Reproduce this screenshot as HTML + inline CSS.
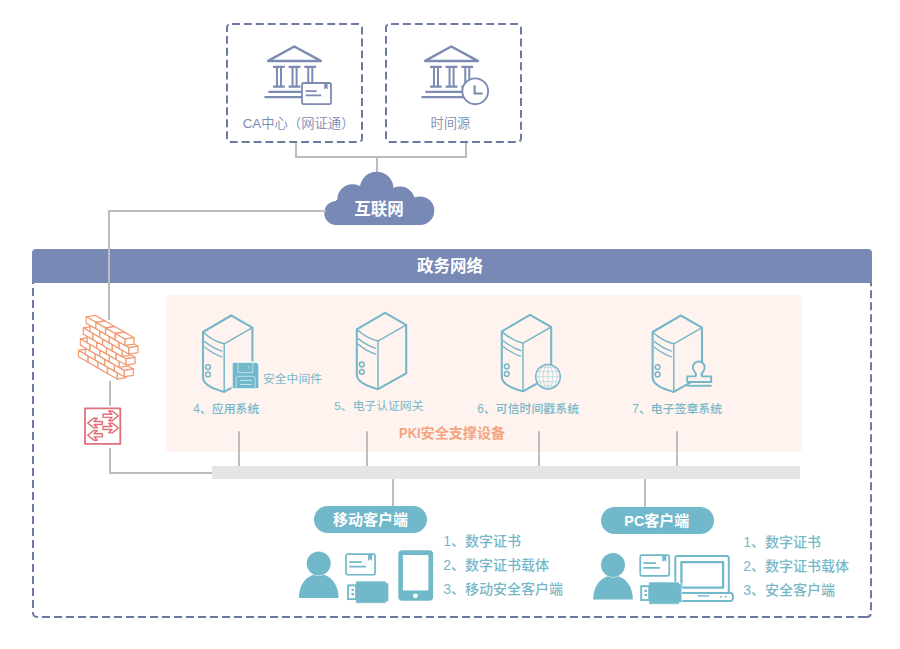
<!DOCTYPE html>
<html lang="zh-CN">
<head>
<meta charset="utf-8">
<title>政务网络 PKI安全支撑</title>
<style>
html,body{margin:0;padding:0;background:#fff;}
body{width:900px;height:649px;overflow:hidden;position:relative;font-family:"Liberation Sans", "Noto Sans CJK SC", sans-serif;}
svg{position:absolute;left:0;top:0;display:block;}
text{font-family:"Liberation Sans", "Noto Sans CJK SC", sans-serif;}
.lbl{font-size:11.8px;fill:#78b7c8;font-weight:400;}
.lb5{font-size:11.9px;font-weight:500;}
.lst{font-size:14px;fill:#78b7c8;font-weight:500;}
.box{font-size:13.33px;fill:#7d8bb3;font-weight:350;}
.wb{fill:#fff;font-weight:700;}
</style>
</head>
<body>
<svg width="900" height="649" viewBox="0 0 900 649">
<defs><clipPath id="below"><rect x="0" y="282" width="900" height="367"/></clipPath></defs>
<rect width="900" height="649" fill="#fff"/>

<g fill="none" stroke="#6c7aa2" stroke-width="2" stroke-dasharray="7.94 3.965" stroke-dashoffset="-1.5">
<rect x="227" y="24" width="135" height="118" rx="3.5"/>
<rect x="386" y="24" width="135" height="118" rx="3.5"/>
</g>
<g fill="none" stroke="#bdbdbd" stroke-width="2">
<path d="M296,143 V157 H466 V143 M377,157 V173"/>
<path d="M393,479 V507 M645,479 V508"/>
</g>
<g transform="translate(0,0)" fill="none" stroke="#7d8bb3" stroke-linejoin="round" stroke-linecap="butt">
<path d="M294.3,46.5 L268.1,60.9 L320.8,60.9 Z" stroke-width="2.5"/>
<path d="M273.0,66.9 h11.8 M273.0,86.6 h11.8" stroke-width="2.1"/>
<path d="M276.95,67 v19.4 M281.00,67 v19.4" stroke-width="2"/>
<path d="M288.6,66.9 h11.8 M288.6,86.6 h11.8" stroke-width="2.1"/>
<path d="M292.55,67 v19.4 M296.60,67 v19.4" stroke-width="2"/>
<path d="M304.3,66.9 h11.8 M304.3,86.6 h11.8" stroke-width="2.1"/>
<path d="M308.25,67 v19.4 M312.30,67 v19.4" stroke-width="2"/>
<path d="M268.4,91.8 H318 M264.4,97.1 H318" stroke-width="2.2"/>
</g>
<g transform="translate(157,0)" fill="none" stroke="#7d8bb3" stroke-linejoin="round" stroke-linecap="butt">
<path d="M294.3,46.5 L268.1,60.9 L320.8,60.9 Z" stroke-width="2.5"/>
<path d="M273.0,66.9 h11.8 M273.0,86.6 h11.8" stroke-width="2.1"/>
<path d="M276.95,67 v19.4 M281.00,67 v19.4" stroke-width="2"/>
<path d="M288.6,66.9 h11.8 M288.6,86.6 h11.8" stroke-width="2.1"/>
<path d="M292.55,67 v19.4 M296.60,67 v19.4" stroke-width="2"/>
<path d="M304.3,66.9 h11.8 M304.3,86.6 h11.8" stroke-width="2.1"/>
<path d="M308.25,67 v19.4 M312.30,67 v19.4" stroke-width="2"/>
<path d="M268.4,91.8 H318 M264.4,97.1 H318" stroke-width="2.2"/>
</g>
<g><rect x="302" y="83" width="29" height="21.2" rx="1.6" fill="#fff" stroke="#7d8bb3" stroke-width="1.8"/><path d="M305.6,91.2 H316.6 M305.6,95.4 H321.2" stroke="#7d8bb3" stroke-width="1.8" fill="none"/><path d="M324.2,83 V89.6 L325.9,88 L327.6,89.6 V83 Z" fill="#7d8bb3"/></g>
<g><circle cx="475.2" cy="91.3" r="12.9" fill="#fff" stroke="#7d8bb3" stroke-width="1.9"/><path d="M474.6,85.2 V93.5 H482.8" fill="none" stroke="#7d8bb3" stroke-width="2.1"/></g>
<text class="box" x="298.6" y="127.8" text-anchor="middle">CA中心（网证通）</text>
<text class="box" x="450.4" y="127.9" text-anchor="middle">时间源</text>
<g fill="#7789b4"><circle cx="336.2" cy="213" r="12"/><circle cx="352.5" cy="199.5" r="15.2"/><circle cx="376.7" cy="188.6" r="16.9"/><circle cx="400" cy="201.5" r="15"/><circle cx="420" cy="210.7" r="14.3"/><rect x="336" y="200" width="84" height="25"/></g>
<text class="wb" x="379" y="215.2" font-size="16.5" text-anchor="middle">互联网</text>
<path d="M866,617 H37 A4,4 0 0 1 33,613 V252.27 A4,4 0 0 1 37,248.27 H867 A4,4 0 0 1 871,252.27 V613 A4,4 0 0 1 867,617 H866" fill="none" stroke="#6c7aa2" stroke-width="2" stroke-dasharray="8 4" clip-path="url(#below)"/>
<path d="M32,283 V253 A4,4 0 0 1 36,249 H868 A4,4 0 0 1 872,253 V283 Z" fill="#7789b4"/>
<text class="wb" x="450" y="271.8" font-size="16.5" text-anchor="middle">政务网络</text>
<path d="M326,211 H109 V320 M110,381 V405.8 M110,448 V474 M109,473 H213" stroke="#bdbdbd" stroke-width="2" fill="none"/>
<rect x="166" y="295" width="636" height="157" rx="4.5" fill="#fef3ef"/>
<path d="M239,431.3 V466 M367,431.3 V466 M539,431.3 V466 M677,431.3 V466" stroke="#bdbdbd" stroke-width="2" fill="none"/>
<rect x="212" y="466" width="588" height="13" fill="#e5e5e5"/>
<g fill="#fff" stroke="#f29c74" stroke-width="1.25" stroke-linejoin="round">
<path d="M78.46,350.39 L87.66,348.99 L97.33,354.57 L88.13,355.97 Z"/>
<path d="M88.13,355.97 L97.33,354.57 L97.33,360.92 L88.13,362.32 Z"/>
<path d="M78.46,350.39 L88.13,355.97 L88.13,362.32 L78.46,356.74 Z"/>
<path d="M88.13,355.97 L97.33,354.57 L107.00,360.15 L97.80,361.55 Z"/>
<path d="M97.80,361.55 L107.00,360.15 L107.00,366.50 L97.80,367.90 Z"/>
<path d="M88.13,355.97 L97.80,361.55 L97.80,367.90 L88.13,362.32 Z"/>
<path d="M97.80,361.55 L107.00,360.15 L116.67,365.73 L107.47,367.13 Z"/>
<path d="M107.47,367.13 L116.67,365.73 L116.67,372.08 L107.47,373.48 Z"/>
<path d="M97.80,361.55 L107.47,367.13 L107.47,373.48 L97.80,367.90 Z"/>
<path d="M107.47,367.13 L116.67,365.73 L126.34,371.31 L117.14,372.71 Z"/>
<path d="M117.14,372.71 L126.34,371.31 L126.34,377.66 L117.14,379.06 Z"/>
<path d="M107.47,367.13 L117.14,372.71 L117.14,379.06 L107.47,373.48 Z"/>
<path d="M85.43,348.05 L94.63,346.65 L104.30,352.23 L95.10,353.63 Z"/>
<path d="M95.10,353.63 L104.30,352.23 L104.30,358.58 L95.10,359.98 Z"/>
<path d="M85.43,348.05 L95.10,353.63 L95.10,359.98 L85.43,354.40 Z"/>
<path d="M95.10,353.63 L104.30,352.23 L113.97,357.81 L104.77,359.21 Z"/>
<path d="M104.77,359.21 L113.97,357.81 L113.97,364.16 L104.77,365.56 Z"/>
<path d="M95.10,353.63 L104.77,359.21 L104.77,365.56 L95.10,359.98 Z"/>
<path d="M104.77,359.21 L113.97,357.81 L123.64,363.39 L114.44,364.79 Z"/>
<path d="M114.44,364.79 L123.64,363.39 L123.64,369.74 L114.44,371.14 Z"/>
<path d="M104.77,359.21 L114.44,364.79 L114.44,371.14 L104.77,365.56 Z"/>
<path d="M114.44,364.79 L123.64,363.39 L133.31,368.97 L124.11,370.37 Z"/>
<path d="M124.11,370.37 L133.31,368.97 L133.31,375.32 L124.11,376.72 Z"/>
<path d="M114.44,364.79 L124.11,370.37 L124.11,376.72 L114.44,371.14 Z"/>
<path d="M80.40,338.80 L89.60,337.40 L99.27,342.98 L90.07,344.38 Z"/>
<path d="M90.07,344.38 L99.27,342.98 L99.27,349.33 L90.07,350.73 Z"/>
<path d="M80.40,338.80 L90.07,344.38 L90.07,350.73 L80.40,345.15 Z"/>
<path d="M90.07,344.38 L99.27,342.98 L108.94,348.56 L99.74,349.96 Z"/>
<path d="M99.74,349.96 L108.94,348.56 L108.94,354.91 L99.74,356.31 Z"/>
<path d="M90.07,344.38 L99.74,349.96 L99.74,356.31 L90.07,350.73 Z"/>
<path d="M99.74,349.96 L108.94,348.56 L118.61,354.14 L109.41,355.54 Z"/>
<path d="M109.41,355.54 L118.61,354.14 L118.61,360.49 L109.41,361.89 Z"/>
<path d="M99.74,349.96 L109.41,355.54 L109.41,361.89 L99.74,356.31 Z"/>
<path d="M109.41,355.54 L118.61,354.14 L128.28,359.72 L119.08,361.12 Z"/>
<path d="M119.08,361.12 L128.28,359.72 L128.28,366.07 L119.08,367.47 Z"/>
<path d="M109.41,355.54 L119.08,361.12 L119.08,367.47 L109.41,361.89 Z"/>
<path d="M87.17,336.36 L96.37,334.96 L106.04,340.54 L96.84,341.94 Z"/>
<path d="M96.84,341.94 L106.04,340.54 L106.04,346.89 L96.84,348.29 Z"/>
<path d="M87.17,336.36 L96.84,341.94 L96.84,348.29 L87.17,342.71 Z"/>
<path d="M96.84,341.94 L106.04,340.54 L115.71,346.12 L106.51,347.52 Z"/>
<path d="M106.51,347.52 L115.71,346.12 L115.71,352.47 L106.51,353.87 Z"/>
<path d="M96.84,341.94 L106.51,347.52 L106.51,353.87 L96.84,348.29 Z"/>
<path d="M106.51,347.52 L115.71,346.12 L125.38,351.70 L116.18,353.10 Z"/>
<path d="M116.18,353.10 L125.38,351.70 L125.38,358.05 L116.18,359.45 Z"/>
<path d="M106.51,347.52 L116.18,353.10 L116.18,359.45 L106.51,353.87 Z"/>
<path d="M116.18,353.10 L125.38,351.70 L135.05,357.28 L125.85,358.68 Z"/>
<path d="M125.85,358.68 L135.05,357.28 L135.05,363.63 L125.85,365.03 Z"/>
<path d="M116.18,353.10 L125.85,358.68 L125.85,365.03 L116.18,359.45 Z"/>
<path d="M83.30,327.78 L92.50,326.38 L102.17,331.96 L92.97,333.36 Z"/>
<path d="M92.97,333.36 L102.17,331.96 L102.17,338.31 L92.97,339.71 Z"/>
<path d="M83.30,327.78 L92.97,333.36 L92.97,339.71 L83.30,334.13 Z"/>
<path d="M92.97,333.36 L102.17,331.96 L111.84,337.54 L102.64,338.94 Z"/>
<path d="M102.64,338.94 L111.84,337.54 L111.84,343.89 L102.64,345.29 Z"/>
<path d="M92.97,333.36 L102.64,338.94 L102.64,345.29 L92.97,339.71 Z"/>
<path d="M102.64,338.94 L111.84,337.54 L121.51,343.12 L112.31,344.52 Z"/>
<path d="M112.31,344.52 L121.51,343.12 L121.51,349.47 L112.31,350.87 Z"/>
<path d="M102.64,338.94 L112.31,344.52 L112.31,350.87 L102.64,345.29 Z"/>
<path d="M112.31,344.52 L121.51,343.12 L131.18,348.70 L121.98,350.10 Z"/>
<path d="M121.98,350.10 L131.18,348.70 L131.18,355.05 L121.98,356.45 Z"/>
<path d="M112.31,344.52 L121.98,350.10 L121.98,356.45 L112.31,350.87 Z"/>
<path d="M90.07,325.33 L99.27,323.93 L108.94,329.51 L99.74,330.91 Z"/>
<path d="M99.74,330.91 L108.94,329.51 L108.94,335.86 L99.74,337.26 Z"/>
<path d="M90.07,325.33 L99.74,330.91 L99.74,337.26 L90.07,331.68 Z"/>
<path d="M99.74,330.91 L108.94,329.51 L118.61,335.09 L109.41,336.49 Z"/>
<path d="M109.41,336.49 L118.61,335.09 L118.61,341.44 L109.41,342.84 Z"/>
<path d="M99.74,330.91 L109.41,336.49 L109.41,342.84 L99.74,337.26 Z"/>
<path d="M109.41,336.49 L118.61,335.09 L128.28,340.67 L119.08,342.07 Z"/>
<path d="M119.08,342.07 L128.28,340.67 L128.28,347.02 L119.08,348.42 Z"/>
<path d="M109.41,336.49 L119.08,342.07 L119.08,348.42 L109.41,342.84 Z"/>
<path d="M119.08,342.07 L128.28,340.67 L137.95,346.25 L128.75,347.65 Z"/>
<path d="M128.75,347.65 L137.95,346.25 L137.95,352.60 L128.75,354.00 Z"/>
<path d="M119.08,342.07 L128.75,347.65 L128.75,354.00 L119.08,348.42 Z"/>
<path d="M86.20,316.75 L95.40,315.35 L105.07,320.93 L95.87,322.33 Z"/>
<path d="M95.87,322.33 L105.07,320.93 L105.07,327.28 L95.87,328.68 Z"/>
<path d="M86.20,316.75 L95.87,322.33 L95.87,328.68 L86.20,323.10 Z"/>
<path d="M95.87,322.33 L105.07,320.93 L114.74,326.51 L105.54,327.91 Z"/>
<path d="M105.54,327.91 L114.74,326.51 L114.74,332.86 L105.54,334.26 Z"/>
<path d="M95.87,322.33 L105.54,327.91 L105.54,334.26 L95.87,328.68 Z"/>
<path d="M105.54,327.91 L114.74,326.51 L124.41,332.09 L115.21,333.49 Z"/>
<path d="M115.21,333.49 L124.41,332.09 L124.41,338.44 L115.21,339.84 Z"/>
<path d="M105.54,327.91 L115.21,333.49 L115.21,339.84 L105.54,334.26 Z"/>
<path d="M115.21,333.49 L124.41,332.09 L134.08,337.67 L124.88,339.07 Z"/>
<path d="M124.88,339.07 L134.08,337.67 L134.08,344.02 L124.88,345.42 Z"/>
<path d="M115.21,333.49 L124.88,339.07 L124.88,345.42 L115.21,339.84 Z"/>
</g>
<g fill="#fff" stroke="#e1707a" stroke-linejoin="round"><rect x="85" y="408.4" width="35.3" height="35.5" stroke-width="1.8"/><g stroke-width="1.45"><path d="M103,414.25 H112.00 L108.80,410.95 H112.20 L118.4,415.8 L112.20,420.65 H108.80 L112.00,417.35 H103 Z"/><path d="M103,426.45 H112.00 L108.80,423.15 H112.20 L118.4,428 L112.20,432.85 H108.80 L112.00,429.55 H103 Z"/><path d="M102.4,421.45 H94.10 L97.30,418.15 H93.90 L87.7,423 L93.90,427.85 H97.30 L94.10,424.55 H102.4 Z"/><path d="M102.4,433.75 H94.10 L97.30,430.45 H93.90 L87.7,435.3 L93.90,440.15 H97.30 L94.10,436.85 H102.4 Z"/></g></g>
<g transform="translate(231.2,315.3)" fill="none" stroke="#78b7c8" stroke-linejoin="round" stroke-linecap="round">
<path d="M-28.2,16.7 L0,0.2 L21.2,12.3 V60.8 L-7,76.6 C-17,74 -28.2,69.5 -28.2,62 Z" stroke-width="2.1"/>
<path d="M-28.2,16.7 Q-19,25.5 -7,28.5 L21.2,12.3 M-7,28.5 V76.6" stroke-width="1.5"/>
<path d="M-26.4,26.3 Q-18,33 -9.3,35.8 M-26.4,32 Q-18,38.8 -9.3,41.6" stroke-width="1.4"/>
<circle cx="-23.2" cy="51.8" r="2.4" stroke-width="1.5"/><circle cx="-23.2" cy="59.2" r="2.4" stroke-width="1.5"/>
</g>
<g transform="translate(385,312.6)" fill="none" stroke="#78b7c8" stroke-linejoin="round" stroke-linecap="round">
<path d="M-28.2,16.7 L0,0.2 L21.2,12.3 V60.8 L-7,76.6 C-17,74 -28.2,69.5 -28.2,62 Z" stroke-width="2.1"/>
<path d="M-28.2,16.7 Q-19,25.5 -7,28.5 L21.2,12.3 M-7,28.5 V76.6" stroke-width="1.5"/>
<path d="M-26.4,26.3 Q-18,33 -9.3,35.8 M-26.4,32 Q-18,38.8 -9.3,41.6" stroke-width="1.4"/>
<circle cx="-23.2" cy="51.8" r="2.4" stroke-width="1.5"/><circle cx="-23.2" cy="59.2" r="2.4" stroke-width="1.5"/>
</g>
<g transform="translate(530,314.7)" fill="none" stroke="#78b7c8" stroke-linejoin="round" stroke-linecap="round">
<path d="M-28.2,16.7 L0,0.2 L21.2,12.3 V60.8 L-7,76.6 C-17,74 -28.2,69.5 -28.2,62 Z" stroke-width="2.1"/>
<path d="M-28.2,16.7 Q-19,25.5 -7,28.5 L21.2,12.3 M-7,28.5 V76.6" stroke-width="1.5"/>
<path d="M-26.4,26.3 Q-18,33 -9.3,35.8 M-26.4,32 Q-18,38.8 -9.3,41.6" stroke-width="1.4"/>
<circle cx="-23.2" cy="51.8" r="2.4" stroke-width="1.5"/><circle cx="-23.2" cy="59.2" r="2.4" stroke-width="1.5"/>
</g>
<g transform="translate(680.8,315.3)" fill="none" stroke="#78b7c8" stroke-linejoin="round" stroke-linecap="round">
<path d="M-28.2,16.7 L0,0.2 L21.2,12.3 V60.8 L-7,76.6 C-17,74 -28.2,69.5 -28.2,62 Z" stroke-width="2.1"/>
<path d="M-28.2,16.7 Q-19,25.5 -7,28.5 L21.2,12.3 M-7,28.5 V76.6" stroke-width="1.5"/>
<path d="M-26.4,26.3 Q-18,33 -9.3,35.8 M-26.4,32 Q-18,38.8 -9.3,41.6" stroke-width="1.4"/>
<circle cx="-23.2" cy="51.8" r="2.4" stroke-width="1.5"/><circle cx="-23.2" cy="59.2" r="2.4" stroke-width="1.5"/>
</g>
<g transform="translate(232,361.7)"><path d="M0.1,0.4 H24.8 L27,2.6 V27.2 H0.1 Z" fill="#71b8cb" stroke="#fff" stroke-width="1.1"/><g fill="none" stroke="#cfe9ef" stroke-width="0.8"><path d="M6,0.6 V10.9 H20.8 V0.6"/><path d="M16.8,4.6 V7.2"/><path d="M4.1,26.9 V17 Q4.1,14.6 6.5,14.6 H20.8 Q23.2,14.6 23.2,17 V26.9"/><path d="M8.1,18.7 H19.9 M8.1,22.8 H19.9" stroke-width="0.9"/></g></g>
<text class="lbl" x="263" y="382.7">安全中间件</text>
<g fill="none" stroke="#78b7c8"><circle cx="548" cy="376.7" r="12.3" fill="#fdf6f3" stroke-width="1.5"/><g stroke-width="0.55" opacity="0.7"><ellipse cx="548" cy="376.7" rx="4.8" ry="12.3"/><ellipse cx="548" cy="376.7" rx="9.3" ry="12.3"/><path d="M548,364.4 V389 M535.7,376.7 H560.3 M536.8,371.7 H559.2 M536.8,381.7 H559.2 M539.6,367.4 H556.4 M539.6,386 H556.4"/></g></g>
<g fill="#fef3ef" stroke="#78b7c8" stroke-width="1.9" stroke-linejoin="round"><path d="M687.2,382 V376.4 H695.6 C696.6,374.6 696,373.2 694.6,371.6 A5.9,5.9 0 1 1 703,371.6 C701.6,373.2 701,374.6 702,376.4 H711.2 V382 Z"/><path d="M686.9,385.8 H711.6" fill="none"/></g>
<text class="lbl lb5" x="193.3" y="412.9">4、应用系统</text>
<text class="lbl" x="334.3" y="409.5">5、电子认证网关</text>
<text class="lbl lb5" x="477.3" y="412.9">6、可信时间戳系统</text>
<text class="lbl lb5" x="632.3" y="412.9">7、电子签章系统</text>
<text x="399" y="438" font-size="14.1" font-weight="700" fill="#f4a57f"><tspan textLength="21.6" lengthAdjust="spacingAndGlyphs">PKI</tspan>安全支撑设备</text>
<rect x="314" y="506" width="113" height="27" rx="13.5" fill="#71b8cb"/>
<rect x="601" y="507" width="113" height="27" rx="13.5" fill="#71b8cb"/>
<text class="wb" x="370.6" y="524.8" font-size="15" text-anchor="middle">移动客户端</text>
<text class="wb" x="656.8" y="525.8" font-size="15" text-anchor="middle"><tspan textLength="19.9" lengthAdjust="spacingAndGlyphs">PC</tspan>客户端</text>
<g fill="#71b8cb"><path d="M298.9,597.9 C298.9,583.4 307.7,573.9 318.7,573.9 C329.7,573.9 338.5,583.4 338.5,597.9 Z"/><circle cx="318.7" cy="563.4" r="12.4" fill="#fff"/><circle cx="318.7" cy="563.4" r="12"/></g>
<g transform="translate(345.3,553.3)"><rect x="0.75" y="0.75" width="29" height="20.7" rx="1.6" fill="#fff" stroke="#71b8cb" stroke-width="1.7"/><path d="M4,8.8 H16.5 M4,13.4 H20.6" stroke="#71b8cb" stroke-width="1.8" fill="none"/><path d="M22.8,0.8 V7.6 L24.8,5.8 L26.8,7.6 V0.8 Z" fill="#71b8cb"/></g>
<g transform="translate(355.8,581.3)"><path d="M0,-0.2 H30.3 V1.6 H32.9 V20.2 H30.3 V22 H0 Z" fill="#71b8cb" stroke="#fff" stroke-width="0.6"/><rect x="-7.7" y="4.0" width="8" height="13.8" fill="#fff" stroke="#71b8cb" stroke-width="1.9"/><rect x="-4.5" y="7.6" width="2.8" height="2.2" rx="0.8" fill="#71b8cb"/><rect x="-4.5" y="11.7" width="2.8" height="2.2" rx="0.8" fill="#71b8cb"/></g>
<g><rect x="398.3" y="550.3" width="34.8" height="50.5" rx="4" fill="#71b8cb"/><rect x="402.9" y="555" width="25.5" height="35.4" fill="#fff"/><circle cx="415.4" cy="595.8" r="2.4" fill="#fff"/></g>
<text class="lst" x="443.2" y="545.6">1、数字证书</text>
<text class="lst" x="443.2" y="569.6">2、数字证书载体</text>
<text class="lst" x="443.2" y="593.6">3、移动安全客户端</text>
<g fill="#71b8cb"><path d="M593.2,599.5 C593.2,585 602,575.5 613,575.5 C624,575.5 632.8,585 632.8,599.5 Z"/><circle cx="613" cy="565" r="12.4" fill="#fff"/><circle cx="613" cy="565" r="12"/></g>
<g transform="translate(639.5,554.4)"><rect x="0.75" y="0.75" width="29" height="20.7" rx="1.6" fill="#fff" stroke="#71b8cb" stroke-width="1.7"/><path d="M4,8.8 H16.5 M4,13.4 H20.6" stroke="#71b8cb" stroke-width="1.8" fill="none"/><path d="M22.8,0.8 V7.6 L24.8,5.8 L26.8,7.6 V0.8 Z" fill="#71b8cb"/></g>
<g fill="#fff" stroke="#71b8cb" stroke-linejoin="round"><rect x="675.3" y="556" width="53.5" height="38" rx="2.2" stroke-width="2"/><rect x="681.4" y="562.1" width="41.7" height="25.5" stroke-width="2.3"/><path d="M679,592.9 H730.4 Q733,592.9 733,597 Q733,601.1 730.4,601.1 H679 Z" stroke-width="2"/><path d="M697.8,595.9 H709" stroke-width="1.4"/><circle cx="721" cy="596.8" r="0.95" fill="#71b8cb" stroke="none"/><circle cx="725.6" cy="596.8" r="0.95" fill="#71b8cb" stroke="none"/></g>
<g transform="translate(648.9,582.2)"><path d="M0,-0.2 H30.3 V1.6 H32.9 V20.2 H30.3 V22 H0 Z" fill="#71b8cb" stroke="#fff" stroke-width="0.6"/><rect x="-7.7" y="4.0" width="8" height="13.8" fill="#fff" stroke="#71b8cb" stroke-width="1.9"/><rect x="-4.5" y="7.6" width="2.8" height="2.2" rx="0.8" fill="#71b8cb"/><rect x="-4.5" y="11.7" width="2.8" height="2.2" rx="0.8" fill="#71b8cb"/></g>
<text class="lst" x="743.2" y="546.5">1、数字证书</text>
<text class="lst" x="743.2" y="570.5">2、数字证书载体</text>
<text class="lst" x="743.2" y="594.5">3、安全客户端</text>
</svg>
</body>
</html>
